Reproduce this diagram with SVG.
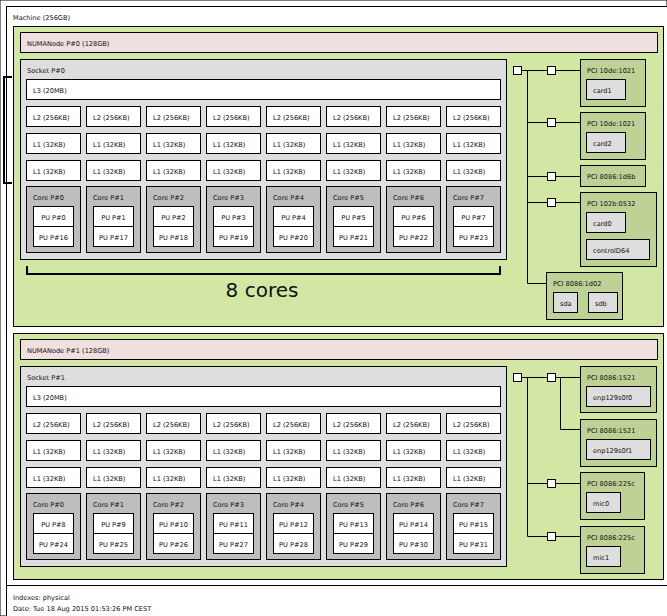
<svg xmlns="http://www.w3.org/2000/svg" width="667" height="616" viewBox="0 0 667 616">
<style>
rect{stroke:#000;stroke-width:1}
.mach{fill:#fff}
.numa{fill:#d2e7a4}
.mem{fill:#efdfde}
.sock{fill:#dedede}
.cache{fill:#fff}
.core{fill:#bebebe}
.pu{fill:#fff}
.pci{fill:#bfd295}
.os{fill:#dedede}
.br{fill:#fff}
text{font-family:"DejaVu Sans",Verdana,sans-serif;font-size:6.6px;fill:#111}
.c{text-anchor:middle}
.big{font-size:20px;text-anchor:middle}
.ln{fill:none;stroke:#000;stroke-width:1}
.brk{fill:none;stroke:#000;stroke-width:2}
</style>
<rect width="667" height="616" fill="#fff" stroke="none"/>
<g id="machine"><rect class="mach" x="6.5" y="6.5" width="700" height="579"/><text x="13" y="20">Machine (256GB)</text></g>
<g id="legend"><rect class="mach" x="6.5" y="585.5" width="700" height="50"/><text x="13" y="600">Indexes: physical</text><text x="13" y="611">Date: Tue 18 Aug 2015 01:53:26 PM CEST</text></g>

<g id="numa0"><rect class="numa" x="13.5" y="26.5" width="650" height="300"/></g>
<g id="numa0-mem"><rect class="mem" x="20.5" y="32.5" width="637" height="20"/><text x="27" y="46">NUMANode P#0 (128GB)</text></g>
<g id="socket0"><rect class="sock" x="20.5" y="59.5" width="486" height="200"/><text x="27" y="73">Socket P#0</text></g>
<g id="s0-l3"><rect class="cache" x="26.5" y="79.5" width="474" height="20"/><text x="33" y="93">L3 (20MB)</text></g>
<g id="s0-l2">
<rect class="cache" x="26.5" y="106.5" width="54" height="20"/><text x="33" y="120">L2 (256KB)</text>
<rect class="cache" x="86.5" y="106.5" width="54" height="20"/><text x="93" y="120">L2 (256KB)</text>
<rect class="cache" x="146.5" y="106.5" width="54" height="20"/><text x="153" y="120">L2 (256KB)</text>
<rect class="cache" x="206.5" y="106.5" width="54" height="20"/><text x="213" y="120">L2 (256KB)</text>
<rect class="cache" x="266.5" y="106.5" width="54" height="20"/><text x="273" y="120">L2 (256KB)</text>
<rect class="cache" x="326.5" y="106.5" width="54" height="20"/><text x="333" y="120">L2 (256KB)</text>
<rect class="cache" x="386.5" y="106.5" width="54" height="20"/><text x="393" y="120">L2 (256KB)</text>
<rect class="cache" x="446.5" y="106.5" width="54" height="20"/><text x="453" y="120">L2 (256KB)</text>
</g>
<g id="s0-l1d">
<rect class="cache" x="26.5" y="133.5" width="54" height="20"/><text x="33" y="147">L1 (32KB)</text>
<rect class="cache" x="86.5" y="133.5" width="54" height="20"/><text x="93" y="147">L1 (32KB)</text>
<rect class="cache" x="146.5" y="133.5" width="54" height="20"/><text x="153" y="147">L1 (32KB)</text>
<rect class="cache" x="206.5" y="133.5" width="54" height="20"/><text x="213" y="147">L1 (32KB)</text>
<rect class="cache" x="266.5" y="133.5" width="54" height="20"/><text x="273" y="147">L1 (32KB)</text>
<rect class="cache" x="326.5" y="133.5" width="54" height="20"/><text x="333" y="147">L1 (32KB)</text>
<rect class="cache" x="386.5" y="133.5" width="54" height="20"/><text x="393" y="147">L1 (32KB)</text>
<rect class="cache" x="446.5" y="133.5" width="54" height="20"/><text x="453" y="147">L1 (32KB)</text>
</g>
<g id="s0-l1i">
<rect class="cache" x="26.5" y="160.5" width="54" height="20"/><text x="33" y="174">L1 (32KB)</text>
<rect class="cache" x="86.5" y="160.5" width="54" height="20"/><text x="93" y="174">L1 (32KB)</text>
<rect class="cache" x="146.5" y="160.5" width="54" height="20"/><text x="153" y="174">L1 (32KB)</text>
<rect class="cache" x="206.5" y="160.5" width="54" height="20"/><text x="213" y="174">L1 (32KB)</text>
<rect class="cache" x="266.5" y="160.5" width="54" height="20"/><text x="273" y="174">L1 (32KB)</text>
<rect class="cache" x="326.5" y="160.5" width="54" height="20"/><text x="333" y="174">L1 (32KB)</text>
<rect class="cache" x="386.5" y="160.5" width="54" height="20"/><text x="393" y="174">L1 (32KB)</text>
<rect class="cache" x="446.5" y="160.5" width="54" height="20"/><text x="453" y="174">L1 (32KB)</text>
</g>
<g id="s0-core0"><rect class="core" x="26.5" y="186.5" width="54" height="66"/><text x="33" y="200">Core P#0</text>
<rect class="pu" x="33.5" y="206.5" width="40" height="20"/><text class="c" x="53.5" y="220">PU P#0</text>
<rect class="pu" x="33.5" y="226.5" width="40" height="20"/><text class="c" x="53.5" y="240">PU P#16</text></g>
<g id="s0-core1"><rect class="core" x="86.5" y="186.5" width="54" height="66"/><text x="93" y="200">Core P#1</text>
<rect class="pu" x="93.5" y="206.5" width="40" height="20"/><text class="c" x="113.5" y="220">PU P#1</text>
<rect class="pu" x="93.5" y="226.5" width="40" height="20"/><text class="c" x="113.5" y="240">PU P#17</text></g>
<g id="s0-core2"><rect class="core" x="146.5" y="186.5" width="54" height="66"/><text x="153" y="200">Core P#2</text>
<rect class="pu" x="153.5" y="206.5" width="40" height="20"/><text class="c" x="173.5" y="220">PU P#2</text>
<rect class="pu" x="153.5" y="226.5" width="40" height="20"/><text class="c" x="173.5" y="240">PU P#18</text></g>
<g id="s0-core3"><rect class="core" x="206.5" y="186.5" width="54" height="66"/><text x="213" y="200">Core P#3</text>
<rect class="pu" x="213.5" y="206.5" width="40" height="20"/><text class="c" x="233.5" y="220">PU P#3</text>
<rect class="pu" x="213.5" y="226.5" width="40" height="20"/><text class="c" x="233.5" y="240">PU P#19</text></g>
<g id="s0-core4"><rect class="core" x="266.5" y="186.5" width="54" height="66"/><text x="273" y="200">Core P#4</text>
<rect class="pu" x="273.5" y="206.5" width="40" height="20"/><text class="c" x="293.5" y="220">PU P#4</text>
<rect class="pu" x="273.5" y="226.5" width="40" height="20"/><text class="c" x="293.5" y="240">PU P#20</text></g>
<g id="s0-core5"><rect class="core" x="326.5" y="186.5" width="54" height="66"/><text x="333" y="200">Core P#5</text>
<rect class="pu" x="333.5" y="206.5" width="40" height="20"/><text class="c" x="353.5" y="220">PU P#5</text>
<rect class="pu" x="333.5" y="226.5" width="40" height="20"/><text class="c" x="353.5" y="240">PU P#21</text></g>
<g id="s0-core6"><rect class="core" x="386.5" y="186.5" width="54" height="66"/><text x="393" y="200">Core P#6</text>
<rect class="pu" x="393.5" y="206.5" width="40" height="20"/><text class="c" x="413.5" y="220">PU P#6</text>
<rect class="pu" x="393.5" y="226.5" width="40" height="20"/><text class="c" x="413.5" y="240">PU P#22</text></g>
<g id="s0-core7"><rect class="core" x="446.5" y="186.5" width="54" height="66"/><text x="453" y="200">Core P#7</text>
<rect class="pu" x="453.5" y="206.5" width="40" height="20"/><text class="c" x="473.5" y="220">PU P#7</text>
<rect class="pu" x="453.5" y="226.5" width="40" height="20"/><text class="c" x="473.5" y="240">PU P#23</text></g>

<g id="annotations">
<path class="brk" d="M12,77 H4 V183 H12"/>
<path class="brk" d="M27,266 V274 H500 V266"/>
<text class="big" x="262" y="297">8 cores</text>
</g>

<g id="numa1"><rect class="numa" x="13.5" y="333.5" width="650" height="246"/></g>
<g id="numa1-mem"><rect class="mem" x="20.5" y="339.5" width="637" height="20"/><text x="27" y="353">NUMANode P#1 (128GB)</text></g>
<g id="socket1"><rect class="sock" x="20.5" y="366.5" width="486" height="200"/><text x="27" y="380">Socket P#1</text></g>
<g id="s1-l3"><rect class="cache" x="26.5" y="386.5" width="474" height="20"/><text x="33" y="400">L3 (20MB)</text></g>
<g id="s1-l2">
<rect class="cache" x="26.5" y="413.5" width="54" height="20"/><text x="33" y="427">L2 (256KB)</text>
<rect class="cache" x="86.5" y="413.5" width="54" height="20"/><text x="93" y="427">L2 (256KB)</text>
<rect class="cache" x="146.5" y="413.5" width="54" height="20"/><text x="153" y="427">L2 (256KB)</text>
<rect class="cache" x="206.5" y="413.5" width="54" height="20"/><text x="213" y="427">L2 (256KB)</text>
<rect class="cache" x="266.5" y="413.5" width="54" height="20"/><text x="273" y="427">L2 (256KB)</text>
<rect class="cache" x="326.5" y="413.5" width="54" height="20"/><text x="333" y="427">L2 (256KB)</text>
<rect class="cache" x="386.5" y="413.5" width="54" height="20"/><text x="393" y="427">L2 (256KB)</text>
<rect class="cache" x="446.5" y="413.5" width="54" height="20"/><text x="453" y="427">L2 (256KB)</text>
</g>
<g id="s1-l1d">
<rect class="cache" x="26.5" y="440.5" width="54" height="20"/><text x="33" y="454">L1 (32KB)</text>
<rect class="cache" x="86.5" y="440.5" width="54" height="20"/><text x="93" y="454">L1 (32KB)</text>
<rect class="cache" x="146.5" y="440.5" width="54" height="20"/><text x="153" y="454">L1 (32KB)</text>
<rect class="cache" x="206.5" y="440.5" width="54" height="20"/><text x="213" y="454">L1 (32KB)</text>
<rect class="cache" x="266.5" y="440.5" width="54" height="20"/><text x="273" y="454">L1 (32KB)</text>
<rect class="cache" x="326.5" y="440.5" width="54" height="20"/><text x="333" y="454">L1 (32KB)</text>
<rect class="cache" x="386.5" y="440.5" width="54" height="20"/><text x="393" y="454">L1 (32KB)</text>
<rect class="cache" x="446.5" y="440.5" width="54" height="20"/><text x="453" y="454">L1 (32KB)</text>
</g>
<g id="s1-l1i">
<rect class="cache" x="26.5" y="467.5" width="54" height="20"/><text x="33" y="481">L1 (32KB)</text>
<rect class="cache" x="86.5" y="467.5" width="54" height="20"/><text x="93" y="481">L1 (32KB)</text>
<rect class="cache" x="146.5" y="467.5" width="54" height="20"/><text x="153" y="481">L1 (32KB)</text>
<rect class="cache" x="206.5" y="467.5" width="54" height="20"/><text x="213" y="481">L1 (32KB)</text>
<rect class="cache" x="266.5" y="467.5" width="54" height="20"/><text x="273" y="481">L1 (32KB)</text>
<rect class="cache" x="326.5" y="467.5" width="54" height="20"/><text x="333" y="481">L1 (32KB)</text>
<rect class="cache" x="386.5" y="467.5" width="54" height="20"/><text x="393" y="481">L1 (32KB)</text>
<rect class="cache" x="446.5" y="467.5" width="54" height="20"/><text x="453" y="481">L1 (32KB)</text>
</g>
<g id="s1-core0"><rect class="core" x="26.5" y="493.5" width="54" height="66"/><text x="33" y="507">Core P#0</text>
<rect class="pu" x="33.5" y="513.5" width="40" height="20"/><text class="c" x="53.5" y="527">PU P#8</text>
<rect class="pu" x="33.5" y="533.5" width="40" height="20"/><text class="c" x="53.5" y="547">PU P#24</text></g>
<g id="s1-core1"><rect class="core" x="86.5" y="493.5" width="54" height="66"/><text x="93" y="507">Core P#1</text>
<rect class="pu" x="93.5" y="513.5" width="40" height="20"/><text class="c" x="113.5" y="527">PU P#9</text>
<rect class="pu" x="93.5" y="533.5" width="40" height="20"/><text class="c" x="113.5" y="547">PU P#25</text></g>
<g id="s1-core2"><rect class="core" x="146.5" y="493.5" width="54" height="66"/><text x="153" y="507">Core P#2</text>
<rect class="pu" x="153.5" y="513.5" width="40" height="20"/><text class="c" x="173.5" y="527">PU P#10</text>
<rect class="pu" x="153.5" y="533.5" width="40" height="20"/><text class="c" x="173.5" y="547">PU P#26</text></g>
<g id="s1-core3"><rect class="core" x="206.5" y="493.5" width="54" height="66"/><text x="213" y="507">Core P#3</text>
<rect class="pu" x="213.5" y="513.5" width="40" height="20"/><text class="c" x="233.5" y="527">PU P#11</text>
<rect class="pu" x="213.5" y="533.5" width="40" height="20"/><text class="c" x="233.5" y="547">PU P#27</text></g>
<g id="s1-core4"><rect class="core" x="266.5" y="493.5" width="54" height="66"/><text x="273" y="507">Core P#4</text>
<rect class="pu" x="273.5" y="513.5" width="40" height="20"/><text class="c" x="293.5" y="527">PU P#12</text>
<rect class="pu" x="273.5" y="533.5" width="40" height="20"/><text class="c" x="293.5" y="547">PU P#28</text></g>
<g id="s1-core5"><rect class="core" x="326.5" y="493.5" width="54" height="66"/><text x="333" y="507">Core P#5</text>
<rect class="pu" x="333.5" y="513.5" width="40" height="20"/><text class="c" x="353.5" y="527">PU P#13</text>
<rect class="pu" x="333.5" y="533.5" width="40" height="20"/><text class="c" x="353.5" y="547">PU P#29</text></g>
<g id="s1-core6"><rect class="core" x="386.5" y="493.5" width="54" height="66"/><text x="393" y="507">Core P#6</text>
<rect class="pu" x="393.5" y="513.5" width="40" height="20"/><text class="c" x="413.5" y="527">PU P#14</text>
<rect class="pu" x="393.5" y="533.5" width="40" height="20"/><text class="c" x="413.5" y="547">PU P#30</text></g>
<g id="s1-core7"><rect class="core" x="446.5" y="493.5" width="54" height="66"/><text x="453" y="507">Core P#7</text>
<rect class="pu" x="453.5" y="513.5" width="40" height="20"/><text class="c" x="473.5" y="527">PU P#15</text>
<rect class="pu" x="453.5" y="533.5" width="40" height="20"/><text class="c" x="473.5" y="547">PU P#31</text></g>

<g id="connectors">
<path class="ln" d="M521.5,70.5 H547.5 M555.5,70.5 H580.5 M527.5,70.5 V283.5 H546.5 M527.5,122.5 H547.5 M555.5,122.5 H580.5 M527.5,176.5 H547.5 M555.5,176.5 H580.5 M527.5,202.5 H547.5 M555.5,202.5 H580.5"/>
<path class="ln" d="M521.5,377.5 H547.5 M555.5,377.5 H580.5 M560.5,377.5 V429.5 H580.5 M527.5,377.5 V536.5 H547.5 M527.5,483.5 H547.5 M555.5,483.5 H580.5 M555.5,536.5 H580.5"/>
</g>

<g id="hostbridge0"><rect class="br" x="513.5" y="66.5" width="8" height="8"/></g>
<g id="bridge0a"><rect class="br" x="547.5" y="66.5" width="8" height="8"/></g>
<g id="bridge0b"><rect class="br" x="547.5" y="118.5" width="8" height="8"/></g>
<g id="bridge0c"><rect class="br" x="547.5" y="172.5" width="8" height="8"/></g>
<g id="bridge0d"><rect class="br" x="547.5" y="198.5" width="8" height="8"/></g>
<g id="pci-a"><rect class="pci" x="580.5" y="59.5" width="65" height="47"/><text x="587" y="73">PCI 10de:1021</text></g>
<g id="card1"><rect class="os" x="586.5" y="79.5" width="39" height="20"/><text x="593" y="93">card1</text></g>
<g id="pci-b"><rect class="pci" x="580.5" y="112.5" width="65" height="47"/><text x="587" y="126">PCI 10de:1021</text></g>
<g id="card2"><rect class="os" x="586.5" y="132.5" width="39" height="20"/><text x="593" y="146">card2</text></g>
<g id="pci-c"><rect class="pci" x="580.5" y="165.5" width="65" height="21"/><text x="587" y="179">PCI 8086:1d6b</text></g>
<g id="pci-d"><rect class="pci" x="580.5" y="192.5" width="76" height="74"/><text x="587" y="206">PCI 102b:0532</text></g>
<g id="card0"><rect class="os" x="586.5" y="212.5" width="39" height="20"/><text x="593" y="226">card0</text></g>
<g id="controlD64"><rect class="os" x="586.5" y="239.5" width="63" height="20"/><text x="593" y="253">controlD64</text></g>
<g id="pci-e"><rect class="pci" x="546.5" y="272.5" width="76" height="47"/><text x="553" y="286">PCI 8086:1d02</text></g>
<g id="sda"><rect class="os" x="553.5" y="292.5" width="24" height="20"/><text x="560" y="306">sda</text></g>
<g id="sdb"><rect class="os" x="588.5" y="292.5" width="29" height="20"/><text x="595" y="306">sdb</text></g>

<g id="hostbridge1"><rect class="br" x="513.5" y="373.5" width="8" height="8"/></g>
<g id="bridge1a"><rect class="br" x="547.5" y="373.5" width="8" height="8"/></g>
<g id="bridge1b"><rect class="br" x="547.5" y="479.5" width="8" height="8"/></g>
<g id="bridge1c"><rect class="br" x="547.5" y="532.5" width="8" height="8"/></g>
<g id="pci-f"><rect class="pci" x="580.5" y="366.5" width="76" height="46"/><text x="587" y="380">PCI 8086:1521</text></g>
<g id="enp129s0f0"><rect class="os" x="586.5" y="386.5" width="64" height="20"/><text x="593" y="400">enp129s0f0</text></g>
<g id="pci-g"><rect class="pci" x="580.5" y="419.5" width="76" height="47"/><text x="587" y="433">PCI 8086:1521</text></g>
<g id="enp129s0f1"><rect class="os" x="586.5" y="439.5" width="64" height="20"/><text x="593" y="453">enp129s0f1</text></g>
<g id="pci-h"><rect class="pci" x="580.5" y="472.5" width="64" height="47"/><text x="587" y="486">PCI 8086:225c</text></g>
<g id="mic0"><rect class="os" x="586.5" y="492.5" width="34" height="20"/><text x="593" y="506">mic0</text></g>
<g id="pci-i"><rect class="pci" x="580.5" y="526.5" width="64" height="47"/><text x="587" y="540">PCI 8086:225c</text></g>
<g id="mic1"><rect class="os" x="586.5" y="546.5" width="34" height="20"/><text x="593" y="560">mic1</text></g>
</svg>
